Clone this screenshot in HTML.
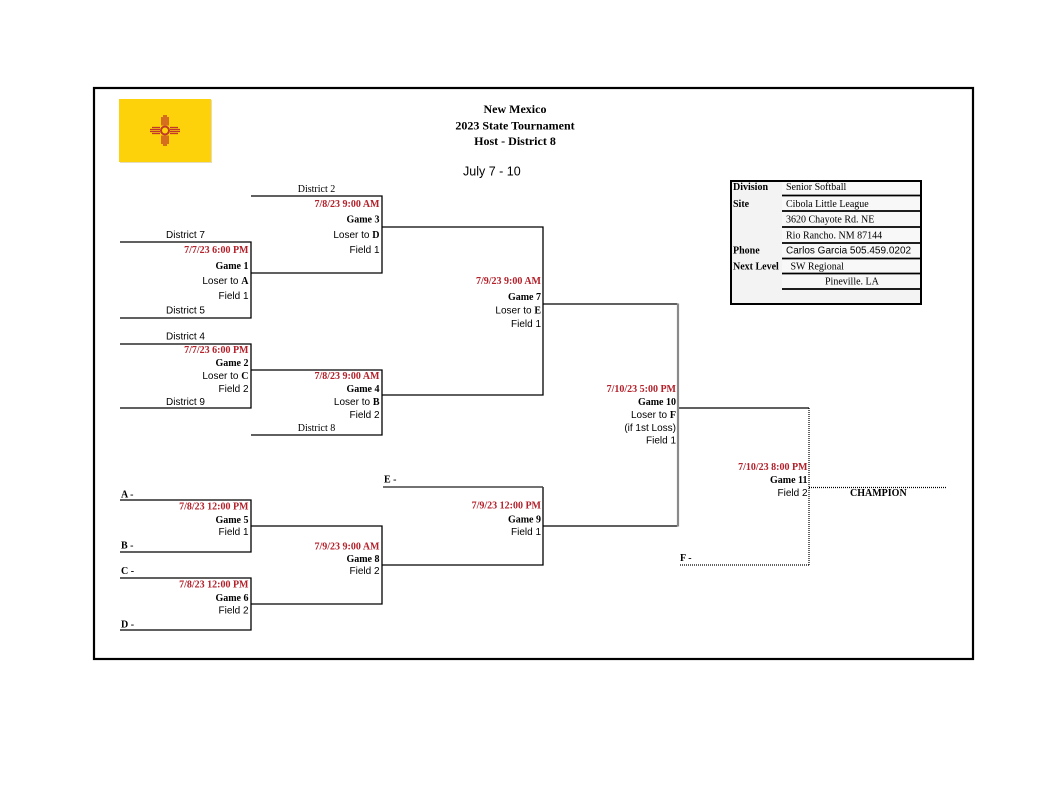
<!DOCTYPE html>
<html>
<head>
<meta charset="utf-8">
<style>
html,body{margin:0;padding:0;background:#fff;}
body{width:1050px;height:811px;overflow:hidden;}
svg{display:block;}
.s{font-family:"Liberation Serif",serif;font-size:10px;fill:#000;}
.b{font-family:"Liberation Serif",serif;font-size:10px;font-weight:bold;fill:#000;}
.r{font-family:"Liberation Serif",serif;font-size:10px;font-weight:bold;fill:#b4202a;}
.a{font-family:"Liberation Sans",sans-serif;font-size:10px;fill:#000;}
.t{font-family:"Liberation Serif",serif;font-size:12px;font-weight:bold;fill:#000;}
.e{text-anchor:end;}
.m{text-anchor:middle;}
</style>
</head>
<body>
<svg width="1050" height="811" viewBox="0 0 1050 811" xmlns="http://www.w3.org/2000/svg">
<rect x="0" y="0" width="1050" height="811" fill="#fff"/>
<!-- outer border -->
<rect x="94" y="88" width="879" height="571" fill="none" stroke="#000" stroke-width="2.2"/>

<!-- flag -->
<rect x="120" y="100" width="92" height="63" fill="#c9b97a" opacity="0.5"/>
<rect x="119" y="99" width="92" height="63" fill="#fdd20a"/>
<g stroke="#c0392b" stroke-width="1.3" fill="none">
  <!-- left rays -->
  <line x1="152" y1="127.5" x2="160" y2="127.5"/>
  <line x1="150" y1="129.5" x2="160" y2="129.5"/>
  <line x1="150" y1="131.5" x2="160" y2="131.5"/>
  <line x1="152" y1="133.5" x2="160" y2="133.5"/>
  <!-- right rays -->
  <line x1="170" y1="127.5" x2="178" y2="127.5"/>
  <line x1="170" y1="129.5" x2="180" y2="129.5"/>
  <line x1="170" y1="131.5" x2="180" y2="131.5"/>
  <line x1="170" y1="133.5" x2="178" y2="133.5"/>
  <!-- top rays -->
  <line x1="162" y1="117" x2="162" y2="125.5"/>
  <line x1="164" y1="115" x2="164" y2="125.5"/>
  <line x1="166" y1="115" x2="166" y2="125.5"/>
  <line x1="168" y1="117" x2="168" y2="125.5"/>
  <!-- bottom rays -->
  <line x1="162" y1="135.5" x2="162" y2="144"/>
  <line x1="164" y1="135.5" x2="164" y2="146"/>
  <line x1="166" y1="135.5" x2="166" y2="146"/>
  <line x1="168" y1="135.5" x2="168" y2="144"/>
  <circle cx="165" cy="130.5" r="4" fill="#fdd20a" stroke-width="2"/>
</g>

<!-- title -->
<text class="t m" x="515" y="113">New Mexico</text>
<text class="t m" x="515" y="129.7">2023 State Tournament</text>
<text class="t m" x="515" y="145">Host - District 8</text>
<text x="463" y="175.5" style="font-family:'Liberation Sans',sans-serif;font-size:12.5px;fill:#000;">July 7 - 10</text>

<!-- info box -->
<rect x="731" y="181" width="190" height="123" fill="#f3f3f3" stroke="#000" stroke-width="2"/>
<rect x="782" y="182" width="138" height="106" fill="#f8f8f8"/>
<g stroke="#000" stroke-width="1.8">
  <line x1="782" y1="195.5" x2="920" y2="195.5"/>
  <line x1="782" y1="211" x2="920" y2="211"/>
  <line x1="782" y1="227" x2="920" y2="227"/>
  <line x1="782" y1="243" x2="920" y2="243"/>
  <line x1="782" y1="258.5" x2="920" y2="258.5"/>
  <line x1="782" y1="273.5" x2="920" y2="273.5"/>
  <line x1="782" y1="289" x2="920" y2="289"/>
</g>
<text class="b" x="733" y="190.2">Division</text>
<text class="s" x="786" y="190.2">Senior Softball</text>
<text class="b" x="733" y="206.8">Site</text>
<text class="s" x="786" y="206.8">Cibola Little League</text>
<text class="s" x="786" y="222.5">3620 Chayote Rd. NE</text>
<text class="s" x="786" y="238.5">Rio Rancho. NM 87144</text>
<text class="b" x="733" y="253.5">Phone</text>
<text class="a" x="786" y="253.5">Carlos Garcia 505.459.0202</text>
<text class="b" x="733" y="269.5">Next Level</text>
<text class="s" x="790.5" y="269.5">SW Regional</text>
<text class="s" x="825" y="284.5">Pineville. LA</text>

<!-- bracket lines -->
<g stroke="#000" stroke-width="1.3" fill="none">
  <path d="M251,196 H382 V273 H251"/>
  <path d="M382,227 H543 V395 H382"/>
  <path d="M120,242 H251 V318 H120"/>
  <path d="M120,344 H251 V408 H120"/>
  <path d="M251,370 H382 V435 H251"/>
  <path d="M543,304 H678"/>
  <path d="M678,408 H809"/>
  <path d="M543,487 V565 H382"/>
  <path d="M543,526 H678"/>
  <path d="M120,500 H251 V552 H120"/>
  <path d="M251,526 H382 V604 H251"/>
  <path d="M120,578 H251 V630 H120"/>
</g>
<path d="M383,487 H543" stroke="#444" stroke-width="1.5" fill="none"/>
<path d="M678,303.5 V526.5" stroke="#8a8a8a" stroke-width="2.2" fill="none"/>
<g stroke="#000" stroke-width="1.2" stroke-dasharray="1,1" fill="none">
  <path d="M809,408 V565"/>
  <path d="M680,565 H809"/>
  <path d="M809,487.5 H946"/>
</g>

<!-- Game 3 -->
<text class="s m" x="316.5" y="191.8">District 2</text>
<text class="r e" x="379.5" y="206.8">7/8/23 9:00 AM</text>
<text class="b e" x="379.5" y="222.5">Game 3</text>
<text class="a e" x="379.5" y="237.8">Loser to <tspan class="b">D</tspan></text>
<text class="a e" x="379.5" y="252.8">Field 1</text>

<!-- Game 1 -->
<text class="a m" x="185.5" y="237.8">District 7</text>
<text class="r e" x="248.5" y="252.8">7/7/23 6:00 PM</text>
<text class="b e" x="248.5" y="269">Game 1</text>
<text class="a e" x="248.5" y="284.2">Loser to <tspan class="b">A</tspan></text>
<text class="a e" x="248.5" y="299.2">Field 1</text>
<text class="a m" x="185.5" y="313.5">District 5</text>

<!-- Game 2 -->
<text class="a m" x="185.5" y="339.5">District 4</text>
<text class="r e" x="248.5" y="353">7/7/23 6:00 PM</text>
<text class="b e" x="248.5" y="365.8">Game 2</text>
<text class="a e" x="248.5" y="379">Loser to <tspan class="b">C</tspan></text>
<text class="a e" x="248.5" y="391.8">Field 2</text>
<text class="a m" x="185.5" y="405">District 9</text>

<!-- Game 4 -->
<text class="r e" x="379.5" y="379">7/8/23 9:00 AM</text>
<text class="b e" x="379.5" y="391.8">Game 4</text>
<text class="a e" x="379.5" y="405">Loser to <tspan class="b">B</tspan></text>
<text class="a e" x="379.5" y="417.8">Field 2</text>
<text class="s m" x="316.5" y="431">District 8</text>

<!-- Game 7 -->
<text class="r e" x="541" y="284.2">7/9/23 9:00 AM</text>
<text class="b e" x="541" y="300">Game 7</text>
<text class="a e" x="541" y="313.5">Loser to <tspan class="b">E</tspan></text>
<text class="a e" x="541" y="326.8">Field 1</text>

<!-- Game 10 -->
<text class="r e" x="676" y="391.8">7/10/23 5:00 PM</text>
<text class="b e" x="676" y="405">Game 10</text>
<text class="a e" x="676" y="417.8">Loser to <tspan class="b">F</tspan></text>
<text class="a e" x="676" y="430.8">(if 1st Loss)</text>
<text class="a e" x="676" y="443.5">Field 1</text>

<!-- Game 11 -->
<text class="r e" x="807.5" y="470.2">7/10/23 8:00 PM</text>
<text class="b e" x="807.5" y="482.8">Game 11</text>
<text class="a e" x="807.5" y="496">Field 2</text>
<text class="b" x="850" y="496">CHAMPION</text>
<text class="b" x="680" y="560.8">F -</text>

<!-- Game 9 -->
<text class="b" x="384" y="482.5">E -</text>
<text class="r e" x="541" y="508.5">7/9/23 12:00 PM</text>
<text class="b e" x="541" y="522.5">Game 9</text>
<text class="a e" x="541" y="535.2">Field 1</text>

<!-- Game 5 -->
<text class="b" x="121" y="497.5">A -</text>
<text class="r e" x="248.5" y="509.5">7/8/23 12:00 PM</text>
<text class="b e" x="248.5" y="522.8">Game 5</text>
<text class="a e" x="248.5" y="535.2">Field 1</text>
<text class="b" x="121" y="548.5">B -</text>

<!-- Game 6 -->
<text class="b" x="121" y="574.2">C -</text>
<text class="r e" x="248.5" y="587.5">7/8/23 12:00 PM</text>
<text class="b e" x="248.5" y="600.8">Game 6</text>
<text class="a e" x="248.5" y="613.5">Field 2</text>
<text class="b" x="121" y="627.5">D -</text>

<!-- Game 8 -->
<text class="r e" x="379.5" y="549.5">7/9/23 9:00 AM</text>
<text class="b e" x="379.5" y="561.8">Game 8</text>
<text class="a e" x="379.5" y="574.2">Field 2</text>
</svg>
</body>
</html>
